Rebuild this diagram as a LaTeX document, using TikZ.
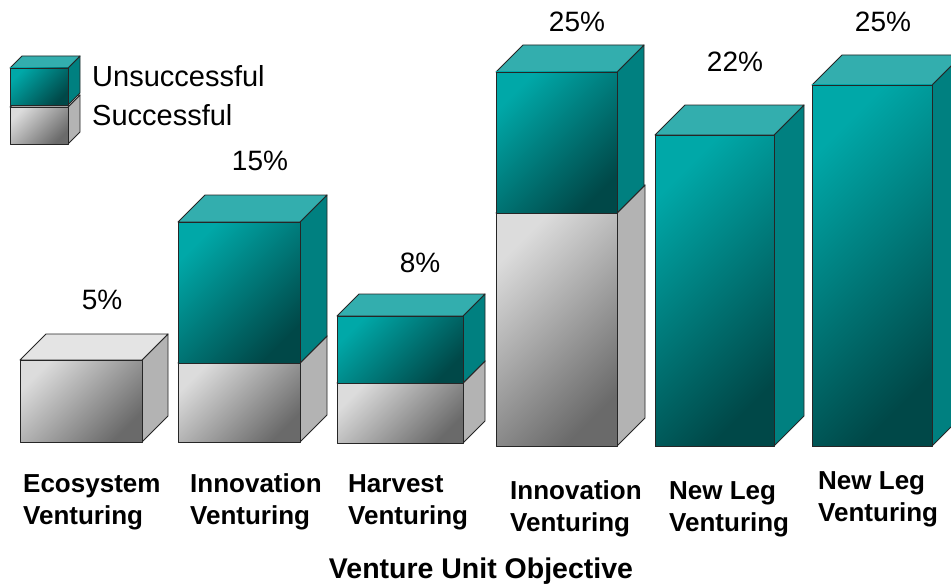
\documentclass[tikz,border=0pt]{standalone}
\usepackage{fontspec}
\setmainfont{Liberation Sans}
\definecolor{tealA}{HTML}{00A8A8}
\definecolor{tealB}{HTML}{004848}
\definecolor{tealS}{HTML}{008080}
\definecolor{tealT}{HTML}{33AEAE}
\definecolor{grayA}{HTML}{DCDCDC}
\definecolor{grayB}{HTML}{6A6A6A}
\definecolor{grayS}{HTML}{B3B3B3}
\definecolor{grayT}{HTML}{E4E4E4}
\tikzset{
  edge/.style={draw=black!85, line width=0.9pt, line join=round},
  pct/.style={font=\fontsize{28}{32}\selectfont, anchor=base, inner sep=0pt},
  leg/.style={font=\fontsize{29}{33}\selectfont, anchor=base west, inner sep=0pt},
  cat/.style={font=\bfseries\fontsize{26}{30}\selectfont, anchor=base west, inner sep=0pt},
  ttl/.style={font=\bfseries\fontsize{28.5}{32}\selectfont, anchor=base, inner sep=0pt}
}
% #1 x left, #2 x right, #3 y top, #4 y bottom, #5 depth, #6 colour prefix
\newcommand{\mycuboid}[6]{%
  \filldraw[edge, fill=#6S] (#2,#3) -- ({#2+#5},{#3-#5}) -- ({#2+#5},{#4-#5}) -- (#2,#4) -- cycle;
  \filldraw[edge, fill=#6T] (#1,#3) -- ({#1+#5},{#3-#5}) -- ({#2+#5},{#3-#5}) -- (#2,#3) -- cycle;
  \shade[top color=#6A, bottom color=#6B, shading angle=45] (#1,#3) rectangle (#2,#4);
  \draw[edge] (#1,#3) rectangle (#2,#4);
}
\begin{document}
\begin{tikzpicture}[x=1pt, y=-1pt]
\useasboundingbox (0,0) rectangle (951,586);
\fill[white] (0,0) rectangle (951,586);
\clip (0,0) rectangle (951,586);

% legend
\mycuboid{10}{68}{107}{144}{12}{gray}
\mycuboid{10}{68}{68}{105}{12}{teal}
\node[leg] (legU) at (92,87) {Unsuccessful};
\node[leg] (legS) at (92,125) {Successful};

% bar 1: Ecosystem
\mycuboid{20}{142}{360}{442}{26}{gray}
% bar 2: Innovation 15%
\mycuboid{178}{300}{363}{442}{27}{gray}
\mycuboid{178}{300}{222}{363}{27}{teal}
% bar 3: Harvest
\mycuboid{337}{463}{383}{443}{22}{gray}
\mycuboid{337}{463}{316}{383}{22}{teal}
% bar 4: Innovation 25%
\mycuboid{496}{617}{213}{446}{28}{gray}
\mycuboid{496}{617}{72}{213}{27}{teal}
% bar 5: New Leg 22%
\mycuboid{655}{774}{135}{446}{30}{teal}
% bar 6: New Leg 25%
\mycuboid{812}{932}{85}{446}{30}{teal}

% percentages
\node[pct] (p1) at (102,309) {5\%};
\node[pct] (p2) at (260,170) {15\%};
\node[pct] (p3) at (420,272) {8\%};
\node[pct] (p4) at (577,32) {25\%};
\node[pct] (p5) at (735,72) {22\%};
\node[pct] (p6) at (883,32) {25\%};

% categories
\node[cat] (c1a) at (23,492) {Ecosystem};
\node[cat] (c1b) at (23,524) {Venturing};
\node[cat] (c2a) at (190,492) {Innovation};
\node[cat] (c2b) at (190,524) {Venturing};
\node[cat] (c3a) at (348,492) {Harvest};
\node[cat] (c3b) at (348,524) {Venturing};
\node[cat] (c4a) at (510,499) {Innovation};
\node[cat] (c4b) at (510,531) {Venturing};
\node[cat] (c5a) at (669,499) {New Leg};
\node[cat] (c5b) at (669,531) {Venturing};
\node[cat] (c6a) at (818,489) {New Leg};
\node[cat] (c6b) at (818,521) {Venturing};

\node[ttl] (title) at (481,578) {Venture Unit Objective};
\end{tikzpicture}
\end{document}
